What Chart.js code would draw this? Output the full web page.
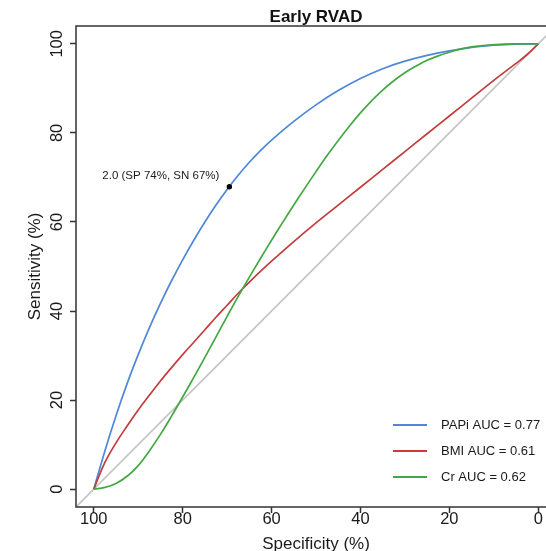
<!DOCTYPE html>
<html>
<head>
<meta charset="utf-8">
<script src="https://cdn.jsdelivr.net/npm/chart.js@4.4.1/dist/chart.umd.min.js"></script>
<style>
  html, body { margin: 0; padding: 0; background: #fff; overflow: hidden; }
  #wrap { width: 546px; height: 551px; overflow: hidden; }
  canvas { display: block; }
</style>
</head>
<body>
<div id="wrap"><canvas id="roc" width="560" height="551"></canvas></div>
<script>
// ---- data ----
const papiSpec = [100, 97.5, 95, 92.5, 90, 87.5, 85, 82.5, 80, 77.5, 75, 72.5, 70, 67.5, 65, 62.5, 60, 55, 50, 45, 40, 35, 30, 25, 20, 15, 10, 5, 0];
const papiSens = [0, 8.6, 16.5, 23.7, 30.2, 36.2, 41.7, 46.8, 51.5, 55.9, 60.0, 63.8, 67.3, 70.5, 73.4, 76.0, 78.4, 82.6, 86.3, 89.5, 92.2, 94.4, 96.1, 97.4, 98.4, 99.2, 99.7, 99.95, 100];

const bmiSpec = [100, 97.5, 95, 92.5, 90, 87.5, 85, 82.5, 80, 77.5, 75, 72.5, 70, 67.5, 65, 62.5, 60, 55, 50, 45, 40, 35, 30, 25, 20, 15, 10, 5, 2.5, 0];
const bmiSens = [0, 6.0, 10.4, 14.2, 17.8, 21.1, 24.3, 27.3, 30.2, 33.0, 35.8, 38.6, 41.3, 44.0, 46.5, 48.9, 51.2, 55.6, 59.8, 63.8, 67.8, 71.8, 75.8, 79.8, 83.8, 87.8, 91.8, 95.6, 97.6, 100];

const crSpec = [100, 97.5, 95, 92.5, 90, 87.5, 85, 82.5, 80, 77.5, 75, 72.5, 70, 67.5, 65, 62.5, 60, 57.5, 55, 52.5, 50, 47.5, 45, 42.5, 40, 37.5, 35, 32.5, 30, 27.5, 25, 22.5, 20, 17.5, 15, 12.5, 10, 7.5, 5, 0];
const crSens = [0, 0.4, 1.3, 2.9, 5.3, 8.6, 12.3, 16.4, 20.7, 25.1, 29.6, 34.2, 38.8, 43.3, 47.6, 51.8, 55.9, 59.9, 63.8, 67.6, 71.3, 74.9, 78.3, 81.5, 84.5, 87.2, 89.6, 91.7, 93.5, 95.0, 96.3, 97.3, 98.1, 98.8, 99.3, 99.6, 99.8, 99.95, 100, 100];

// identity line, drawn across the whole plot box
const diagSpec = [104, -4];
const diagSens = [-4, 104];

// best threshold marked on the PAPi curve
const cutSpec = [69.5];
const cutSens = [67.9];
const cutLabel = "2.0 (SP 74%, SN 67%)";

const seriesLabels = ["PAPi AUC = 0.77", "BMI AUC = 0.61", "Cr AUC = 0.62"];
const seriesColors = ["#4f88d8", "#c43c3c", "#43a843"];

const xTicks = [100, 80, 60, 40, 20, 0];
const yTicks = [0, 20, 40, 60, 80, 100];

const chartTitle = "Early RVAD";
const FONT = '"Liberation Sans", Arial, Helvetica, sans-serif';
const INK = "#1a1a1a";
const AXIS = "#333333";

const toXY = (xs, ys) => xs.map((x, i) => ({ x, y: ys[i] }));

Chart.defaults.font.family = FONT;
Chart.defaults.color = INK;

// box, title, threshold label and legend
const frame = {
  id: "frame",
  afterDraw(chart) {
    const { ctx, chartArea: a, scales } = chart;
    ctx.save();
    ctx.strokeStyle = AXIS;
    ctx.lineWidth = 1.5;
    ctx.strokeRect(a.left, a.top, a.right - a.left, a.bottom - a.top);

    ctx.fillStyle = "#111";
    ctx.font = "bold 17px " + FONT;
    ctx.textAlign = "center";
    ctx.textBaseline = "middle";
    ctx.fillText(chartTitle, (a.left + a.right) / 2, 17);

    const px = scales.x.getPixelForValue(cutSpec[0]);
    const py = scales.y.getPixelForValue(cutSens[0]);
    ctx.fillStyle = INK;
    ctx.font = "11.5px " + FONT;
    ctx.textAlign = "right";
    ctx.fillText(cutLabel, px - 10, py - 11);

    // legend, bottom right of the plot
    ctx.font = "13px " + FONT;
    ctx.textAlign = "left";
    const lx = a.right - 163;
    let ly = a.bottom - 82;
    seriesLabels.forEach((lab, i) => {
      ctx.strokeStyle = seriesColors[i];
      ctx.lineWidth = 1.8;
      ctx.beginPath();
      ctx.moveTo(lx, ly);
      ctx.lineTo(lx + 34, ly);
      ctx.stroke();
      ctx.fillStyle = INK;
      ctx.fillText(lab, lx + 48, ly);
      ly += 26;
    });
    ctx.restore();
  }
};

const tickGrid = {
  display: true,
  drawOnChartArea: false,
  drawTicks: true,
  tickLength: 6,
  tickColor: AXIS,
  tickWidth: 1.5
};

const curve = (label, xs, ys, color) => ({
  label, data: toXY(xs, ys), borderColor: color,
  borderWidth: 1.7, pointRadius: 0, tension: 0.4
});

new Chart(document.getElementById("roc"), {
  type: "line",
  data: {
    datasets: [
      { label: "cut", data: toXY(cutSpec, cutSens), showLine: false, pointRadius: 2.7,
        pointBackgroundColor: "#000", pointBorderWidth: 0 },
      curve(seriesLabels[2], crSpec, crSens, seriesColors[2]),
      curve(seriesLabels[1], bmiSpec, bmiSens, seriesColors[1]),
      curve(seriesLabels[0], papiSpec, papiSens, seriesColors[0]),
      { label: "diag", data: toXY(diagSpec, diagSens), borderColor: "#c4c4c4",
        borderWidth: 1.6, pointRadius: 0, tension: 0 }
    ]
  },
  options: {
    responsive: false,
    animation: false,
    devicePixelRatio: 1,
    layout: { padding: { top: 26, right: 2, left: 0, bottom: 0 } },
    plugins: {
      legend: { display: false },
      tooltip: { enabled: false },
      title: { display: false }
    },
    scales: {
      x: {
        type: "linear",
        min: -4,
        max: 104,
        reverse: true,
        afterBuildTicks: (s) => { s.ticks = xTicks.map(v => ({ value: v })); },
        afterFit: (s) => { s.height = 44; },
        grid: tickGrid,
        border: { display: false },
        ticks: { padding: -1.75, color: INK, font: { size: 16.5, lineHeight: 1 } },
        title: { display: true, text: "Specificity (%)", color: INK,
                 font: { size: 17, lineHeight: 1 }, padding: { top: 0, bottom: -2 } }
      },
      y: {
        type: "linear",
        min: -4,
        max: 104,
        afterBuildTicks: (s) => { s.ticks = yTicks.map(v => ({ value: v })); },
        afterFit: (s) => { s.width = 76; },
        grid: tickGrid,
        border: { display: false },
        ticks: { minRotation: 90, maxRotation: 90, crossAlign: "center", padding: -1.5,
                 color: INK, font: { size: 16.5, lineHeight: 1 } },
        title: { display: true, text: "Sensitivity (%)", color: INK,
                 font: { size: 17, lineHeight: 1 }, padding: { top: 27, bottom: 0 } }
      }
    }
  },
  plugins: [frame]
});
</script>
</body>
</html>
